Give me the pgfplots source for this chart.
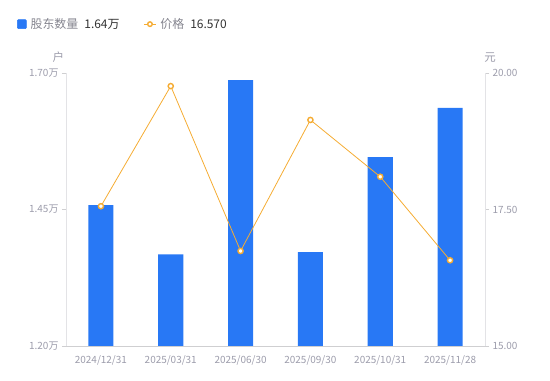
\documentclass[border=0pt]{standalone}
\usepackage{pgfplots}
\pgfplotsset{compat=1.18}
\usepackage{fontspec}
\setmainfont{Noto Sans CJK SC}
\definecolor{barblue}{HTML}{2878F5}
\definecolor{lineorange}{HTML}{F5AC33}
\definecolor{ticktext}{HTML}{9C9CAB}
\definecolor{axisline}{HTML}{E3E3E6}
\definecolor{legtext}{HTML}{85858F}
\definecolor{legval}{HTML}{333333}
\begin{document}
\begin{tikzpicture}
\path[use as bounding box] (0,0) rectangle (550bp,381bp);
\begin{axis}[
  at={(66bp,35bp)}, anchor=south west,
  scale only axis, width=419bp, height=273bp,
  xmin=-0.5, xmax=5.5, ymin=1.2, ymax=1.7,
  axis x line*=bottom, axis y line*=left,
  axis line style={draw=axisline, line width=0.8bp},
  x axis line style={draw=axisline!80!gray},
  xtick={0,1,2,3,4,5},
  xticklabels={2024/12/31,2025/03/31,2025/06/30,2025/09/30,2025/10/31,2025/11/28},
  x tick label style={font=\fontsize{10}{11}\selectfont, text=ticktext, yshift=-2bp},
  major x tick style={draw=none},
  ytick={1.2,1.45,1.7},
  yticklabels={1.20万,1.45万,1.70万},
  y tick label style={font=\fontsize{10}{11}\selectfont, text=ticktext},
  major y tick style={draw=axisline!80!gray, line width=0.8bp},
  tick align=outside, major tick length=4bp,
  ylabel={户},
  every axis y label/.style={at={(axis description cs:-0.018,1)}, anchor=south, yshift=7bp,
    font=\fontsize{11.5}{12}\selectfont, text=ticktext},
  legend columns=2,
  legend style={at={(-0.117,1.179)}, anchor=west, draw=none, fill=none, inner sep=0pt,
    font=\fontsize{12}{14}\selectfont,
    /tikz/every odd column/.append style={column sep=2bp},
    /tikz/every even column/.append style={column sep=22bp}},
  legend cell align=left,
]
\addlegendimage{legend image code/.code={\fill[barblue, rounded corners=1bp] (0bp,-4.5bp) rectangle (9bp,4.5bp);}}
\addlegendentry{{\color{legtext}股东数量}\hspace{6bp}{\color{legval}1.64万}}
\addlegendimage{legend image code/.code={\draw[lineorange, line width=0.8bp] (0bp,0bp)--(12bp,0bp); \draw[lineorange, fill=white, line width=1.4bp] (6bp,0bp) circle (2.3bp);}}
\addlegendentry{{\color{legtext}价格}\hspace{6bp}{\color{legval}16.570}}
\addplot[ybar, bar width=25bp, fill=barblue, draw=none] coordinates {
(0,1.458) (1,1.368) (2,1.687) (3,1.372) (4,1.546) (5,1.636)};
\end{axis}
\begin{axis}[
  at={(66bp,35bp)}, anchor=south west,
  scale only axis, width=419bp, height=273bp,
  xmin=-0.5, xmax=5.5, ymin=15, ymax=20,
  axis x line=none, axis y line*=right,
  axis line style={draw=axisline, line width=0.8bp},
  ytick={15,17.5,20},
  yticklabels={15.00,17.50,20.00},
  y tick label style={font=\fontsize{10}{11}\selectfont, text=ticktext},
  major y tick style={draw=axisline!80!gray, line width=0.8bp},
  tick align=outside, major tick length=4bp,
  ylabel={元},
  every axis y label/.style={at={(axis description cs:1.012,1)}, anchor=south, yshift=7bp,
    font=\fontsize{11.5}{12}\selectfont, text=ticktext},
]
\addplot[lineorange, line width=0.8bp, mark=*, mark size=2.6bp,
  mark options={fill=white, draw=lineorange, line width=1.4bp}] coordinates {
(0,17.56) (1,19.76) (2,16.74) (3,19.14) (4,18.10) (5,16.57)};
\end{axis}
\end{tikzpicture}
\end{document}
